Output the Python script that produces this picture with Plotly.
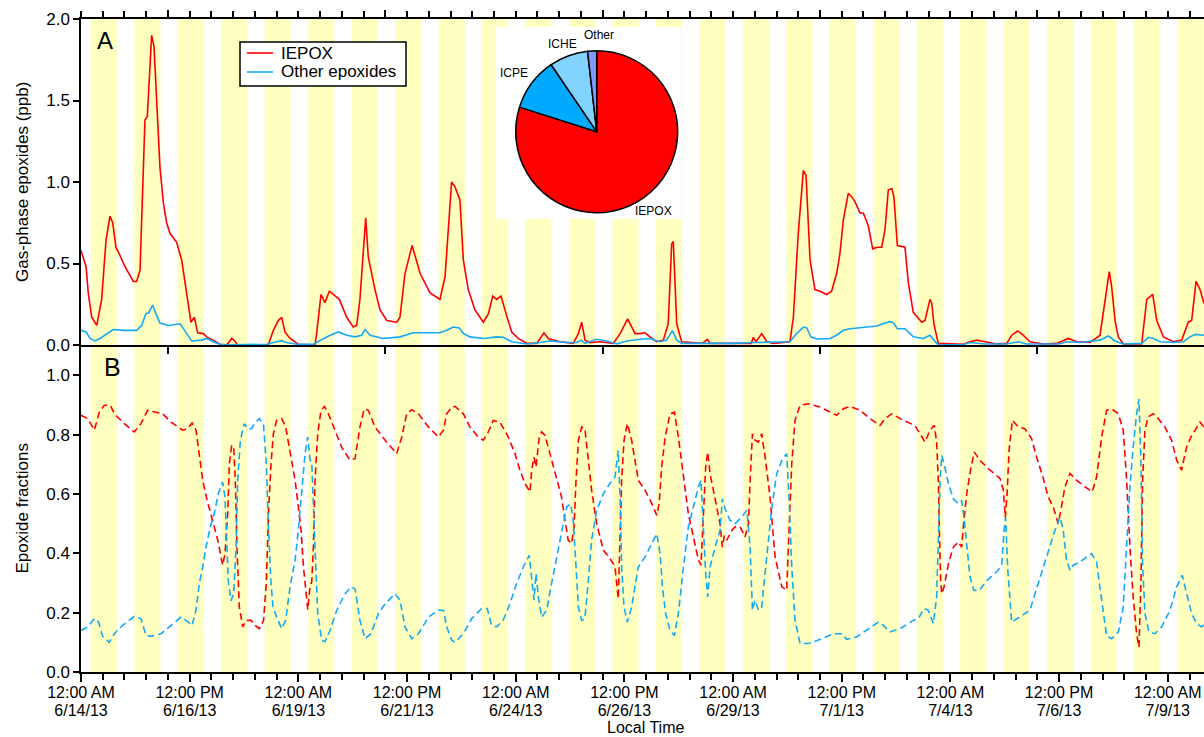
import plotly.graph_objects as go
import pandas as pd

# ---------------- data (hours after 6/14/13 00:00 local time) ----------------
iepox_t = [0, 2.8, 4.0, 5.9, 8.7, 11.4, 13.8, 16.0, 17.5, 19.3, 21.5, 24.3, 28.9, 30.7, 32.6, 35.3, 36.6,
           39.0, 40.3, 43.6, 45.5, 47.3, 49.1, 52.8, 55.6, 58.4, 60.7, 62.6, 64.4, 67.5, 69.4, 73.0, 76.7,
           80.4, 83.2, 85.0, 86.3, 103.4, 106.2, 108.9, 110.8, 112.6, 115.4, 120.0, 129.2, 130.1, 132.5,
           134.7, 137.1, 139.3, 142.6, 146.7, 150.3, 152.2, 154.0, 157.2, 158.6, 162.3, 165.1, 168.8,
           174.3, 176.1, 178.9, 182.8, 187.2, 192.7, 198.2, 201.0, 204.6, 206.5, 209.2, 211.1, 213.8,
           217.5, 222.1, 224.9, 227.3, 229.5, 231.9, 235.0, 237.8, 241.4, 246.1, 251.6, 253.4, 255.6,
           258.0, 264.5, 271.8, 274.6, 276.4, 278.3, 281.0, 286.6, 293.9, 297.6, 301.8, 305.9, 308.6,
           311.4, 314.1, 317.8, 321.5, 324.2, 326.1, 327.0, 328.9, 331.6, 343.0, 345.8, 347.3, 370.0,
           371.2, 372.7, 375.8, 378.6, 382.2, 391.4, 393.3, 396.0, 398.8, 400.3, 402.5, 405.2, 408.0,
           411.7, 414.4, 417.2, 419.0, 420.9, 423.6, 425.5, 427.3, 430.1, 431.9, 434.7, 437.1, 439.6,
           442.1, 443.9, 445.7, 447.6, 448.8, 450.7, 454.9, 456.8, 459.5, 464.2, 466.0, 468.7, 469.7,
           470.9, 473.3, 487.0, 490.8, 494.5, 499.1, 505.5, 511.1, 513.8, 517.1, 520.2, 523.9, 531.3,
           538.7, 545.1, 549.7, 557.1, 562.6, 565.4, 567.7, 569.0, 570.9, 572.7, 575.5, 585.6, 588.4,
           591.7, 593.9, 597.6, 603.1, 607.7, 611.3, 613.2, 615.6, 617.8, 620.0]
iepox_ppb = [0.58, 0.48, 0.32, 0.17, 0.12, 0.28, 0.64, 0.79, 0.75, 0.60, 0.55, 0.48, 0.39, 0.39, 0.46, 1.38,
             1.40, 1.90, 1.83, 1.09, 0.87, 0.75, 0.685, 0.63, 0.52, 0.32, 0.14, 0.17, 0.075, 0.07, 0.05,
             0.03, 0.005, 0.0, 0.04, 0.025, 0.0, 0.0, 0.09, 0.15, 0.17, 0.08, 0.04, 0.005, 0.0, 0.07,
             0.31, 0.26, 0.33, 0.31, 0.28, 0.17, 0.11, 0.12, 0.28, 0.78, 0.54, 0.34, 0.215, 0.15, 0.14,
             0.17, 0.44, 0.61, 0.44, 0.32, 0.28, 0.42, 1.00, 0.97, 0.89, 0.52, 0.34, 0.215, 0.14, 0.19,
             0.30, 0.28, 0.30, 0.18, 0.08, 0.04, 0.01, 0.01, 0.04, 0.075, 0.04, 0.02, 0.01, 0.07, 0.14,
             0.03, 0.015, 0.02, 0.01, 0.07, 0.16, 0.07, 0.07, 0.075, 0.05, 0.02, 0.03, 0.13, 0.62, 0.635,
             0.13, 0.02, 0.01, 0.035, 0.01, 0.01, 0.047, 0.02, 0.07, 0.02, 0.01, 0.02, 0.17, 0.685, 1.07,
             1.04, 0.52, 0.34, 0.33, 0.31, 0.33, 0.44, 0.56, 0.77, 0.93, 0.91, 0.88, 0.81, 0.81, 0.73,
             0.59, 0.60, 0.60, 0.71, 0.95, 0.96, 0.91, 0.61, 0.60, 0.38, 0.20, 0.14, 0.15, 0.28, 0.255,
             0.13, 0.01, 0.005, 0.02, 0.03, 0.02, 0.006, 0.01, 0.06, 0.086, 0.06, 0.02, 0.006, 0.01, 0.04,
             0.02, 0.016, 0.06, 0.28, 0.45, 0.36, 0.15, 0.05, 0.006, 0.006, 0.28, 0.31, 0.15, 0.05, 0.02,
             0.03, 0.14, 0.15, 0.39, 0.34, 0.255]

other_t = [0, 2.8, 5.0, 7.7, 10.5, 14.2, 17.8, 23.4, 30.7, 33.5, 35.9, 37.2, 39.6, 41.8, 43.6, 48.2, 54.7,
           58.4, 61.1, 66.6, 69.4, 73.0, 76.7, 80.0, 102.5, 108.0, 110.8, 113.5, 119.0, 128.2, 132.9,
           137.5, 142.1, 146.7, 151.3, 155.0, 156.8, 159.6, 166.9, 176.1, 183.5, 198.2, 201.9, 205.5,
           208.8, 211.1, 214.7, 222.1, 229.5, 233.2, 237.8, 246.1, 253.4, 258.9, 268.1, 273.6, 276.1,
           278.3, 284.7, 290.2, 295.7, 301.3, 308.6, 314.1, 319.6, 323.3, 326.5, 328.9, 331.6, 360.0,
           372.0, 391.4, 395.1, 398.8, 400.7, 402.9, 406.2, 413.5, 417.2, 420.9, 424.6, 433.8, 439.3,
           446.3, 448.5, 450.7, 454.9, 459.5, 465.1, 468.7, 472.4, 474.0, 487.0, 490.8, 499.0, 511.1,
           517.5, 522.0, 540.0, 544.2, 551.6, 562.6, 567.2, 570.9, 575.5, 585.6, 589.3, 592.1, 595.8,
           603.1, 608.6, 612.3, 615.1, 620.0]
other_ppb = [0.09, 0.08, 0.04, 0.025, 0.04, 0.07, 0.095, 0.09, 0.09, 0.12, 0.195, 0.195, 0.245, 0.18, 0.135,
             0.12, 0.13, 0.07, 0.025, 0.03, 0.04, 0.02, 0.005, 0.0, 0.005, 0.02, 0.025, 0.015, 0.005, 0.005,
             0.035, 0.06, 0.08, 0.06, 0.05, 0.06, 0.095, 0.06, 0.04, 0.05, 0.075, 0.075, 0.09, 0.11, 0.105,
             0.07, 0.05, 0.04, 0.05, 0.047, 0.02, 0.006, 0.015, 0.025, 0.015, 0.015, 0.03, 0.01, 0.035,
             0.025, 0.006, 0.025, 0.035, 0.04, 0.02, 0.03, 0.088, 0.03, 0.01, 0.01, 0.015, 0.02, 0.07, 0.11,
             0.105, 0.05, 0.037, 0.04, 0.06, 0.09, 0.10, 0.108, 0.117, 0.143, 0.137, 0.10, 0.10, 0.05, 0.04,
             0.06, 0.01, 0.0, 0.003, 0.015, 0.006, 0.006, 0.02, 0.006, 0.006, 0.02, 0.015, 0.03, 0.055,
             0.025, 0.006, 0.01, 0.047, 0.04, 0.02, 0.015, 0.02, 0.05, 0.065, 0.06]

frac_iepox_t = [0, 3.7, 7.4, 10.1, 12.9, 16.2, 18.4, 23.9, 29.4, 33.1, 36.8, 41.4, 45.1, 49.7, 56.1, 58.9,
                61.3, 63.5, 65.3, 67.2, 69.6, 71.4, 73.6, 75.5, 77.3, 78.2, 79.5, 81.0, 81.9, 83.2, 84.3,
                85.2, 86.1, 87.4, 89.3, 91.1, 93.9, 96.1, 98.5, 100.8, 102.3, 103.6, 104.9, 106.2, 108.0,
                110.8, 113.0, 115.4, 118.2, 120.0, 121.5, 122.8, 124.1, 125.2, 126.4, 127.4, 128.3, 129.2,
                130.7, 132.5, 134.4, 136.6, 140.2, 143.9, 148.5, 151.3, 154.0, 156.4, 158.6, 162.3, 167.9,
                174.3, 177.1, 179.8, 182.6, 186.3, 191.8, 197.3, 200.1, 201.9, 204.7, 206.5, 211.1, 214.7,
                219.3, 222.1, 224.9, 227.6, 231.3, 235.9, 239.6, 242.3, 245.1, 247.9, 248.8, 250.1, 251.2,
                252.1, 253.0, 254.3, 256.1, 258.9, 262.6, 265.3, 267.2, 269.0, 270.9, 272.2, 273.3, 274.6,
                276.4, 278.2, 280.1, 281.9, 284.7, 288.4, 292.0, 294.8, 296.6, 297.6, 298.5, 299.8, 301.6,
                304.0, 305.9, 307.7, 311.4, 315.1, 317.9, 319.2, 320.6, 322.5, 325.2, 327.6, 329.8, 332.6,
                335.3, 338.1, 340.9, 342.3, 343.6, 344.9, 346.0, 347.3, 349.1, 351.0, 352.8, 354.1, 355.2,
                356.5, 359.3, 361.1, 363.9, 366.6, 368.5, 369.4, 370.7, 372.1, 374.0, 375.8, 377.7, 380.4,
                383.2, 386.9, 389.6, 390.9, 392.4, 394.2, 397.0, 401.6, 408.0, 413.5, 417.2, 420.9, 424.6,
                430.1, 435.6, 441.1, 443.9, 447.6, 454.0, 460.4, 463.2, 466.0, 468.7, 471.1, 472.4, 473.3,
                473.9, 474.6, 475.2, 476.5, 478.9, 481.6, 484.4, 486.2, 487.5, 489.0, 491.2, 493.2, 496.3,
                501.9, 507.4, 509.2, 510.3, 511.3, 512.4, 514.2, 517.5, 521.1, 524.8, 527.6, 531.3, 534.0,
                536.8, 539.5, 541.0, 543.2, 546.0, 549.7, 554.3, 558.3, 560.7, 563.5, 566.2, 569.0, 572.7,
                575.4, 577.3, 579.1, 580.9, 582.8, 584.1, 585.2, 586.1, 587.4, 589.2, 592.0, 594.7, 598.4,
                602.1, 604.9, 607.6, 610.4, 612.8, 615.0, 617.8, 620.0]
frac_iepox = [0.865, 0.854, 0.815, 0.876, 0.899, 0.899, 0.87, 0.837, 0.809, 0.837, 0.882, 0.876, 0.87, 0.842,
              0.815, 0.82, 0.839, 0.815, 0.725, 0.646, 0.579, 0.534, 0.489, 0.444, 0.388, 0.36, 0.399, 0.534,
              0.702, 0.764, 0.758, 0.646, 0.421, 0.219, 0.152, 0.174, 0.174, 0.157, 0.146, 0.174, 0.30,
              0.55, 0.70, 0.803, 0.848, 0.854, 0.826, 0.747, 0.646, 0.557, 0.478, 0.355, 0.265, 0.21, 0.287,
              0.304, 0.421, 0.646, 0.803, 0.882, 0.895, 0.87, 0.815, 0.758, 0.714, 0.719, 0.826, 0.887,
              0.882, 0.826, 0.781, 0.736, 0.792, 0.87, 0.884, 0.87, 0.826, 0.792, 0.815, 0.87, 0.893, 0.895,
              0.87, 0.826, 0.792, 0.781, 0.809, 0.848, 0.842, 0.792, 0.736, 0.68, 0.635, 0.607, 0.68, 0.724,
              0.691, 0.747, 0.792, 0.809, 0.798, 0.736, 0.657, 0.59, 0.511, 0.444, 0.433, 0.489, 0.646,
              0.781, 0.826, 0.82, 0.714, 0.613, 0.5, 0.41, 0.383, 0.355, 0.247, 0.421, 0.646, 0.781, 0.837,
              0.781, 0.71, 0.646, 0.613, 0.568, 0.528, 0.568, 0.691, 0.792, 0.87, 0.876, 0.792, 0.668,
              0.534, 0.455, 0.377, 0.36, 0.534, 0.691, 0.741, 0.668, 0.613, 0.556, 0.5, 0.421, 0.46, 0.444,
              0.477, 0.489, 0.489, 0.455, 0.5, 0.646, 0.803, 0.781, 0.775, 0.803, 0.724, 0.59, 0.388, 0.287,
              0.276, 0.477, 0.702, 0.848, 0.899, 0.904, 0.893, 0.876, 0.865, 0.887, 0.895, 0.882, 0.854,
              0.831, 0.854, 0.87, 0.848, 0.831, 0.803, 0.775, 0.815, 0.831, 0.775, 0.646, 0.477, 0.308,
              0.264, 0.287, 0.365, 0.421, 0.438, 0.421, 0.511, 0.601, 0.685, 0.741, 0.713, 0.68, 0.652,
              0.613, 0.52, 0.60, 0.75, 0.848, 0.826, 0.82, 0.787, 0.724, 0.652, 0.59, 0.556, 0.5, 0.545,
              0.624, 0.669, 0.646, 0.624, 0.607, 0.657, 0.792, 0.882, 0.887, 0.87, 0.815, 0.646, 0.421,
              0.253, 0.129, 0.084, 0.308, 0.646, 0.815, 0.86, 0.87, 0.854, 0.826, 0.781, 0.714, 0.68, 0.758,
              0.792, 0.815, 0.842, 0.826]

frac_other_t = [0, 3.7, 7.4, 9.6, 12.0, 15.6, 18.4, 23.0, 29.4, 33.1, 35.9, 38.6, 44.2, 49.7, 55.2, 58.9,
                61.3, 63.5, 65.3, 67.2, 69.0, 71.4, 73.6, 75.8, 78.2, 79.5, 80.4, 81.3, 82.8, 84.3, 85.6,
                86.5, 88.0, 90.2, 92.0, 94.2, 95.7, 98.5, 100.8, 102.3, 103.6, 104.9, 106.0, 108.0, 110.8,
                113.0, 115.4, 118.2, 120.0, 122.2, 123.7, 125.2, 126.4, 127.4, 128.3, 129.2, 130.7, 132.9,
                134.7, 137.5, 141.2, 145.8, 149.1, 151.3, 154.0, 156.8, 160.1, 164.2, 167.9, 173.4, 176.1,
                178.9, 182.6, 186.3, 191.8, 197.3, 200.1, 201.9, 204.7, 206.5, 211.1, 215.7, 221.2, 224.3,
                226.7, 229.5, 233.1, 236.8, 240.5, 244.2, 247.5, 248.8, 250.1, 251.2, 252.5, 254.3, 257.1,
                259.8, 262.6, 265.3, 268.1, 270.3, 271.8, 273.3, 274.6, 276.4, 278.2, 280.1, 281.9, 284.7,
                288.4, 292.0, 294.8, 296.6, 297.6, 298.5, 299.8, 301.6, 304.0, 305.9, 307.7, 311.4, 315.1,
                317.9, 319.7, 321.0, 322.8, 325.2, 327.6, 329.8, 332.6, 335.3, 338.1, 340.9, 342.3, 343.6,
                344.9, 346.0, 347.3, 350.1, 352.8, 354.1, 355.6, 358.3, 361.1, 364.8, 367.6, 369.4, 370.7,
                372.1, 374.0, 375.8, 378.6, 381.4, 384.1, 386.9, 389.6, 390.9, 392.4, 394.2, 397.0, 401.6,
                409.0, 415.4, 420.0, 422.7, 428.2, 434.7, 440.2, 443.0, 446.6, 452.2, 459.5, 462.3, 465.4,
                467.8, 470.6, 472.4, 473.3, 474.3, 475.2, 476.5, 478.9, 481.6, 484.4, 486.2, 487.5, 489.0,
                490.8, 493.0, 496.0, 500.0, 505.5, 508.3, 509.6, 510.5, 511.6, 513.8, 518.4, 523.9, 526.7,
                530.3, 534.0, 537.7, 540.5, 542.3, 544.1, 546.0, 547.8, 551.5, 557.9, 560.7, 562.5, 564.4,
                566.2, 569.0, 572.7, 575.4, 577.3, 579.1, 580.9, 582.8, 584.1, 585.2, 586.1, 587.4, 589.6,
                592.9, 596.6, 601.2, 604.9, 608.0, 610.4, 613.2, 615.9, 618.7, 620.0]
frac_other = [0.14, 0.152, 0.18, 0.17, 0.12, 0.10, 0.129, 0.157, 0.187, 0.18, 0.123, 0.12, 0.129, 0.157,
              0.185, 0.17, 0.157, 0.208, 0.298, 0.354, 0.421, 0.489, 0.534, 0.601, 0.64, 0.59, 0.421, 0.308,
              0.24, 0.264, 0.421, 0.646, 0.781, 0.837, 0.82, 0.82, 0.837, 0.854, 0.831, 0.70, 0.47, 0.30,
              0.22, 0.185, 0.146, 0.174, 0.287, 0.377, 0.477, 0.624, 0.736, 0.792, 0.714, 0.708, 0.59, 0.421,
              0.197, 0.107, 0.102, 0.14, 0.208, 0.264, 0.287, 0.28, 0.174, 0.112, 0.129, 0.197, 0.23, 0.264,
              0.242, 0.152, 0.112, 0.129, 0.185, 0.208, 0.208, 0.152, 0.107, 0.10, 0.129, 0.18, 0.214,
              0.214, 0.157, 0.152, 0.174, 0.23, 0.298, 0.354, 0.393, 0.308, 0.242, 0.332, 0.253, 0.185,
              0.208, 0.298, 0.388, 0.477, 0.556, 0.567, 0.511, 0.354, 0.219, 0.174, 0.18, 0.308, 0.444,
              0.545, 0.601, 0.635, 0.657, 0.747, 0.59, 0.354, 0.219, 0.168, 0.219, 0.29, 0.354, 0.388,
              0.433, 0.466, 0.399, 0.287, 0.197, 0.14, 0.123, 0.197, 0.354, 0.489, 0.556, 0.624, 0.646,
              0.477, 0.332, 0.253, 0.354, 0.421, 0.477, 0.584, 0.55, 0.511, 0.5, 0.522, 0.545, 0.421, 0.208,
              0.242, 0.208, 0.219, 0.377, 0.556, 0.668, 0.713, 0.736, 0.59, 0.354, 0.174, 0.096, 0.096,
              0.112, 0.129, 0.129, 0.11, 0.118, 0.146, 0.168, 0.157, 0.135, 0.146, 0.174, 0.18, 0.214, 0.208,
              0.163, 0.253, 0.421, 0.646, 0.73, 0.702, 0.635, 0.584, 0.567, 0.578, 0.522, 0.421, 0.32,
              0.275, 0.275, 0.308, 0.337, 0.36, 0.477, 0.52, 0.35, 0.168, 0.185, 0.208, 0.264, 0.332, 0.41,
              0.477, 0.522, 0.477, 0.377, 0.343, 0.36, 0.371, 0.399, 0.371, 0.287, 0.197, 0.123, 0.112,
              0.135, 0.219, 0.421, 0.624, 0.758, 0.87, 0.92, 0.702, 0.365, 0.197, 0.135, 0.129, 0.152,
              0.208, 0.287, 0.326, 0.264, 0.197, 0.163, 0.152, 0.16]

pie_labels = ["IEPOX", "ICPE", "ICHE", "Other"]
pie_values = [79.9, 10.6, 7.7, 1.8]
pie_colors = ["#FF0000", "#00AAFF", "#80D4FF", "#7F99FF"]

# x-axis tick labels (panel B), every 60 h
tick_hours = [0, 60, 120, 180, 240, 300, 360, 420, 480, 540, 600]
tick_time_texts = ["12:00 AM", "12:00 PM", "12:00 AM", "12:00 PM", "12:00 AM", "12:00 PM",
                   "12:00 AM", "12:00 PM", "12:00 AM", "12:00 PM", "12:00 AM"]
tick_date_texts = ["6/14/13", "6/16/13", "6/19/13", "6/21/13", "6/24/13", "6/26/13",
                   "6/29/13", "7/1/13", "7/4/13", "7/6/13", "7/9/13"]
panelA_tick_hours = [48, 168, 288, 408, 528]

legend_names = ["IEPOX", "Other epoxides"]

# daylight shading (local time)
n_days = 26
sunrise_h = 5.4
sunset_h = 19.85

START = pd.Timestamp("2013-06-14 00:00:00")
END_H = 620.0


def t(hours):
    return [(START + pd.Timedelta(hours=h)).strftime("%Y-%m-%d %H:%M:%S") for h in hours]


x_range = t([0, END_H])

RED = "#FF0000"
BLUE = "#14AAF5"
FONT = "Liberation Sans, Arial, Helvetica, sans-serif"

W, H, L, T, B = 1204, 737, 81, 19, 65
pw, ph = W - L, H - T - B


def px_x(px):
    return (px - L) / pw


def px_y(py):
    return (H - B - py) / ph


fig = go.Figure()

fig.add_trace(go.Scatter(x=t(iepox_t), y=iepox_ppb, mode="lines", name=legend_names[0], showlegend=False,
                         line=dict(color=RED, width=1.6), xaxis="x", yaxis="y"))
fig.add_trace(go.Scatter(x=t(other_t), y=other_ppb, mode="lines", name=legend_names[1], showlegend=False,
                         line=dict(color=BLUE, width=1.6), xaxis="x", yaxis="y"))
fig.add_trace(go.Scatter(x=t(frac_iepox_t), y=frac_iepox, mode="lines", showlegend=False,
                         name="IEPOX fraction",
                         line=dict(color=RED, width=1.6, dash="7px,4px"), xaxis="x2", yaxis="y2"))
fig.add_trace(go.Scatter(x=t(frac_other_t), y=frac_other, mode="lines", showlegend=False,
                         name="Other epoxides fraction",
                         line=dict(color=BLUE, width=1.6, dash="7px,4px"), xaxis="x2", yaxis="y2"))
# empty traces so that the auxiliary axes (top ticks, date row) get their own subplots
fig.add_trace(go.Scatter(x=[], y=[], xaxis="x3", yaxis="y", showlegend=False, hoverinfo="skip"))
fig.add_trace(go.Scatter(x=[], y=[], xaxis="x4", yaxis="y2", showlegend=False, hoverinfo="skip"))

# pie inset
cx, cy, r = 596.7, 131.7, 81
fig.add_trace(go.Pie(labels=pie_labels, values=pie_values, sort=False, direction="clockwise", rotation=0,
                     marker=dict(colors=pie_colors, line=dict(color="black", width=1.5)),
                     textinfo="none", showlegend=False,
                     domain=dict(x=[px_x(cx - r), px_x(cx + r)], y=[px_y(cy + r), px_y(cy - r)])))
pie_label_px = [(653.5, 211.5), (513.5, 73.0), (562.0, 44.0), (599.0, 35.5)]

shapes = []
for d in range(n_days):
    shapes.append(dict(type="rect", xref="x", yref="paper", layer="below",
                       x0=t([24 * d + sunrise_h])[0], x1=t([24 * d + sunset_h])[0], y0=0, y1=1,
                       fillcolor="#FFFFC0", line=dict(width=0)))
# white background behind the pie
shapes.append(dict(type="rect", xref="paper", yref="paper", layer="below",
                   x0=px_x(496), x1=px_x(681), y0=px_y(219), y1=px_y(27),
                   fillcolor="white", line=dict(width=0)))
# legend box with line samples
shapes.append(dict(type="rect", xref="paper", yref="paper", layer="above",
                   x0=px_x(240), x1=px_x(406), y0=px_y(86), y1=px_y(42),
                   fillcolor="white", line=dict(color="black", width=1.5)))
legend_rows = [(53, RED), (72, BLUE)]
for (ry, col) in legend_rows:
    shapes.append(dict(type="line", xref="paper", yref="paper", layer="above",
                       x0=px_x(247), x1=px_x(273), y0=px_y(ry), y1=px_y(ry),
                       line=dict(color=col, width=1.6)))

split = px_y(345)
axis_common = dict(showgrid=False, zeroline=False, showline=True, linecolor="black", linewidth=1.5,
                   tickcolor="black", tickwidth=1.5,
                   tickfont=dict(family=FONT, size=17, color="black"))
xlab_font = dict(family=FONT, size=16, color="black")
twelve_h_ms = 12 * 3600 * 1000

annotations = [
    dict(text="A", x=px_x(105), y=px_y(40), xref="paper", yref="paper", showarrow=False,
         font=dict(size=24, family=FONT, color="black"), xanchor="center", yanchor="middle"),
    dict(text="B", x=px_x(112), y=px_y(367), xref="paper", yref="paper", showarrow=False,
         font=dict(size=25, family=FONT, color="black"), xanchor="center", yanchor="middle"),
    dict(text="Gas-phase epoxides (ppb)", x=px_x(22), y=px_y(182), xref="paper", yref="paper",
         showarrow=False, textangle=-90, font=dict(size=17, family=FONT, color="black"),
         xanchor="center", yanchor="middle"),
    dict(text="Epoxide fractions", x=px_x(22), y=px_y(508.5), xref="paper", yref="paper",
         showarrow=False, textangle=-90, font=dict(size=17, family=FONT, color="black"),
         xanchor="center", yanchor="middle"),
    dict(text="Local Time", x=px_x(645.5), y=px_y(737), xref="paper", yref="paper", showarrow=False,
         font=dict(size=16, family=FONT, color="black"), xanchor="center", yanchor="bottom",
         borderpad=0),
]
for name, (ry, col) in zip(legend_names, legend_rows):
    annotations.append(dict(text=name, x=px_x(280), y=px_y(ry), xref="paper", yref="paper",
                            showarrow=False, xanchor="left", yanchor="middle", borderpad=0,
                            font=dict(size=17, family=FONT, color="black")))
for lab, (lx, ly) in zip(pie_labels, pie_label_px):
    annotations.append(dict(text=lab, x=px_x(lx), y=px_y(ly), xref="paper", yref="paper",
                            showarrow=False, xanchor="center", yanchor="middle", borderpad=0,
                            font=dict(size=12, family=FONT, color="black")))

fig.update_layout(
    width=W, height=H, margin=dict(l=L, r=0, t=T, b=B),
    paper_bgcolor="white", plot_bgcolor="rgba(0,0,0,0)",
    font=dict(family=FONT, size=17, color="black"),
    showlegend=False,
    shapes=shapes,
    xaxis=dict(domain=[0, 1], anchor="y", range=x_range, type="date", tickmode="array",
               tickvals=t(panelA_tick_hours), ticks="outside", ticklen=7, showticklabels=False,
               **axis_common),
    xaxis3=dict(overlaying="x", side="top", anchor="y", range=x_range, type="date", tickmode="array",
                tickvals=t(panelA_tick_hours), ticks="outside", ticklen=7.5, showticklabels=False,
                minor=dict(tick0=x_range[0], dtick=twelve_h_ms, ticks="outside", ticklen=6,
                           tickcolor="black", tickwidth=1.5),
                **axis_common),
    yaxis=dict(domain=[split, 1], anchor="x", range=[0, 2.0], tickmode="linear", tick0=0, dtick=0.5,
               tickformat=".1f", ticks="outside", ticklen=6, **axis_common),
    xaxis2=dict(domain=[0, 1], anchor="y2", range=x_range, type="date", tickmode="array",
                tickvals=t(tick_hours), ticktext=tick_time_texts, ticks="outside", ticklen=8,
                ticklabeloverflow="allow", ticklabelstandoff=-3,
                minor=dict(tick0=x_range[0], dtick=twelve_h_ms, ticks="outside", ticklen=6,
                           tickcolor="black", tickwidth=1.5),
                showgrid=False, zeroline=False, showline=True, linecolor="black", linewidth=1.5,
                tickcolor="black", tickwidth=1.5, tickfont=xlab_font),
    xaxis4=dict(overlaying="x2", side="bottom", anchor="y2", range=x_range, type="date", tickmode="array",
                tickvals=t(tick_hours), ticktext=tick_date_texts, ticks="outside", ticklen=8,
                tickcolor="rgba(0,0,0,0)", showline=False, showgrid=False, zeroline=False,
                ticklabelstandoff=16, ticklabeloverflow="allow", tickfont=xlab_font),
    yaxis2=dict(domain=[0, split], anchor="x2", range=[0, 1.102], tickmode="linear", tick0=0, dtick=0.2,
                tickformat=".1f", ticks="outside", ticklen=6, **axis_common),
    annotations=annotations,
)

fig.write_html("out.html")
